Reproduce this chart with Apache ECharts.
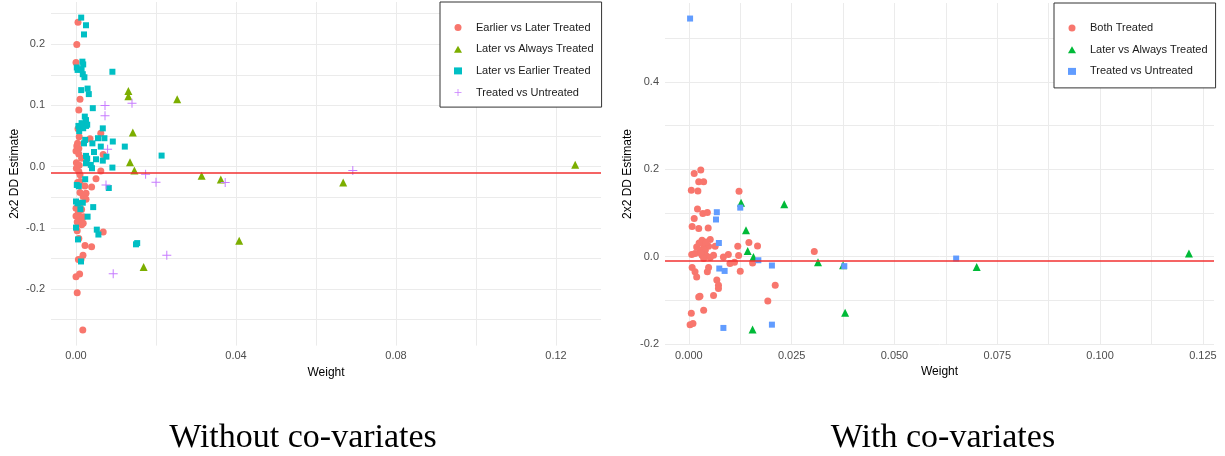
<!DOCTYPE html>
<html>
<head>
<meta charset="utf-8">
<title>2x2 DD estimates vs weight</title>
<script src="https://cdn.jsdelivr.net/npm/echarts@6/dist/echarts.min.js"></script>
<style>
  html, body { margin: 0; padding: 0; background: #fff; }
  #chart { width: 1225px; height: 456px; }
</style>
</head>
<body>
<div id="chart"></div>
<script>
// ---- left panel: without co-variates ([weight, estimate]) ----
var leftEarlierVsLater = [
  [0.0005,0.236],[0.0002,0.1995],[0.0,0.170],[0.001,0.110],[0.0007,0.0925],[0.0005,0.062],
  [0.0062,0.0545],[0.0008,0.049],[0.0035,0.0457],[0.0004,0.038],[0.0002,0.0337],[0.0007,0.0294],
  [0.0,0.0255],[0.0007,0.0208],[0.0068,0.0196],[0.0014,0.0137],[0.0001,0.0065],[0.0008,0.0023],
  [0.0001,-0.0026],[0.0007,-0.008],[0.001,-0.0134],[0.0062,-0.0072],[0.005,-0.020],[0.0004,-0.026],
  [0.001,-0.0245],[0.0022,-0.0317],[0.0039,-0.0333],[0.001,-0.0425],[0.0025,-0.0435],[0.0018,-0.049],
  [0.0025,-0.0534],[0.001,-0.060],[0.0,-0.068],[0.0014,-0.070],[0.0006,-0.0752],[0.0,-0.0807],
  [0.001,-0.0845],[0.0018,-0.082],[0.0003,-0.0907],[0.0014,-0.095],[0.0018,-0.0926],[0.0003,-0.105],
  [0.0068,-0.107],[0.0007,-0.1176],[0.00225,-0.129],[0.0039,-0.131],[0.00175,-0.145],[0.00125,-0.152],
  [0.0006,-0.152],[0.0009,-0.1755],[0.0,-0.18],[0.0003,-0.206],[0.0017,-0.267]
];
var leftLaterVsAlways = [
  [0.0131,0.1235],[0.0131,0.115],[0.0253,0.110],[0.0142,0.0556],[0.0135,0.007],[0.0146,-0.0065],
  [0.0314,-0.015],[0.0362,-0.021],[0.0668,-0.026],[0.1248,0.003],[0.0408,-0.121],[0.0169,-0.164]
];
var leftLaterVsEarlier = [
  [0.0013,0.2435],[0.0025,0.231],[0.002,0.216],[0.0016,0.1715],[0.0018,0.167],[0.0002,0.162],
  [0.0004,0.158],[0.0014,0.159],[0.0017,0.151],[0.0021,0.146],[0.0091,0.155],[0.0013,0.125],
  [0.0029,0.1275],[0.0032,0.1185],[0.0042,0.0955],[0.0022,0.0817],[0.0025,0.076],[0.0006,0.0665],
  [0.0014,0.071],[0.0025,0.0665],[0.0028,0.0685],[0.0018,0.0627],[0.0008,0.058],[0.0067,0.0625],
  [0.0055,0.0464],[0.0071,0.0464],[0.0092,0.041],[0.0023,0.0436],[0.002,0.038],[0.0041,0.038],
  [0.0122,0.0327],[0.0062,0.0327],[0.0045,0.0239],[0.0076,0.0163],[0.0025,0.0175],[0.0028,0.013],
  [0.005,0.012],[0.0067,0.0098],[0.0214,0.018],[0.0025,0.0056],[0.0037,0.0028],[0.004,-0.0026],
  [0.0091,-0.0016],[0.0023,-0.0206],[0.0002,-0.030],[0.0007,-0.032],[0.0082,-0.035],[0.0,-0.057],
  [0.0004,-0.060],[0.0017,-0.059],[0.0043,-0.0662],[0.0011,-0.0695],[0.0029,-0.0818],[0.0,-0.0997],
  [0.0052,-0.103],[0.0056,-0.111],[0.0005,-0.119],[0.015,-0.127],[0.0153,-0.125],[0.00125,-0.155]
];
var leftTreatedVsUntreated = [
  [0.00725,0.100],[0.014,0.1035],[0.00725,0.083],[0.0079,0.0285],[0.0075,-0.030],[0.0174,-0.0124],
  [0.020,-0.0255],[0.0373,-0.026],[0.0692,-0.0065],[0.0227,-0.145],[0.0093,-0.175]
];
var leftOverall = -0.008;

// ---- right panel: with co-variates ----
var rightBothTreated = [
  [0.0013,0.190],[0.0029,0.198],[0.0024,0.171],[0.0036,0.171],[0.0006,0.152],[0.0022,0.150],
  [0.0122,0.1496],[0.0021,0.109],[0.0034,0.0985],[0.0045,0.1008],[0.0013,0.087],[0.0008,0.069],
  [0.0024,0.064],[0.0047,0.0655],[0.0032,0.0373],[0.0052,0.039],[0.0019,0.022],[0.0036,0.026],
  [0.0048,0.0236],[0.0064,0.0236],[0.0027,0.0144],[0.004,0.0144],[0.0015,0.0069],[0.0032,0.003],
  [0.0044,0.0007],[0.006,0.003],[0.0007,0.0046],[0.0036,-0.0046],[0.0052,-0.0023],[0.0025,0.031],
  [0.0042,0.033],[0.0029,0.008],[0.0146,0.032],[0.0167,0.0243],[0.0119,0.0236],[0.0305,0.0115],
  [0.0084,-0.001],[0.0096,0.0046],[0.0121,0.0023],[0.010,-0.016],[0.0111,-0.013],[0.0155,-0.0147],
  [0.0125,-0.0337],[0.0008,-0.025],[0.0015,-0.035],[0.0019,-0.0467],[0.0045,-0.035],[0.0048,-0.025],
  [0.0068,-0.054],[0.0072,-0.066],[0.0072,-0.073],[0.021,-0.066],[0.0027,-0.091],[0.0024,-0.0925],
  [0.006,-0.0894],[0.0192,-0.1017],[0.0006,-0.130],[0.0036,-0.123],[0.0003,-0.156],[0.001,-0.1535]
];
var rightLaterVsAlways = [
  [0.0127,0.123],[0.0232,0.120],[0.0139,0.0603],[0.0143,0.0128],[0.0157,-0.001],[0.0314,-0.013],
  [0.0375,-0.020],[0.038,-0.129],[0.0155,-0.167],[0.070,-0.0238],[0.1216,0.0069]
];
var rightTreatedVsUntreated = [
  [0.0003,0.545],[0.0068,0.1015],[0.0066,0.0848],[0.0125,0.112],[0.0073,0.031],[0.0169,-0.0085],
  [0.0202,-0.0206],[0.0378,-0.022],[0.0074,-0.0275],[0.0087,-0.033],[0.0084,-0.1635],[0.0202,-0.156],
  [0.065,-0.0046]
];
var rightOverall = -0.011;

// ticks (grid lines) and labelled ticks
var leftXGrid = [0, 0.02, 0.04, 0.06, 0.08, 0.10, 0.12];
var leftXLabels = [0, 0.04, 0.08, 0.12];
var leftYGrid = [-0.25, -0.2, -0.15, -0.1, -0.05, 0, 0.05, 0.1, 0.15, 0.2, 0.25];
var leftYLabels = [-0.2, -0.1, 0, 0.1, 0.2];
var rightXGrid = [0, 0.0125, 0.025, 0.0375, 0.05, 0.0625, 0.075, 0.0875, 0.1, 0.1125, 0.125];
var rightXLabels = [0, 0.025, 0.05, 0.075, 0.1, 0.125];
var rightYGrid = [-0.2, -0.1, 0, 0.1, 0.2, 0.3, 0.4, 0.5];
var rightYLabels = [-0.2, 0, 0.2, 0.4];

var RED = '#F8766D';
var plusPath = 'path://M4,0H5V4H9V5H5V9H4V5H0V4H4Z';
var labelFont = { color: '#4d4d4d', fontSize: 11, fontFamily: 'Liberation Sans' };
var nameFont = { color: '#000', fontSize: 12, fontFamily: 'Liberation Sans' };

function xAxisOf(gridIndex, min, max, grid, labels, digits) {
  return {
    type: 'value', gridIndex: gridIndex, min: min, max: max,
    name: 'Weight', nameLocation: 'middle', nameGap: 19, nameTextStyle: nameFont,
    axisLine: { show: false },
    axisTick: { show: false, customValues: grid },
    axisLabel: Object.assign({ margin: 5, customValues: labels,
      formatter: function (v) { return v.toFixed(digits); } }, labelFont),
    splitLine: { show: true, lineStyle: { color: '#ebebeb', width: 1 } }
  };
}
function yAxisOf(gridIndex, min, max, grid, labels, gap) {
  return {
    type: 'value', gridIndex: gridIndex, min: min, max: max,
    name: '2x2 DD Estimate', nameLocation: 'middle', nameGap: gap, nameTextStyle: nameFont,
    axisLine: { show: false },
    axisTick: { show: false, customValues: grid },
    axisLabel: Object.assign({ margin: 6, customValues: labels,
      formatter: function (v) { return v.toFixed(1); } }, labelFont),
    splitLine: { show: true, lineStyle: { color: '#ebebeb', width: 1 } }
  };
}
function scatter(name, data, axis, color, symbol, size) {
  return {
    name: name, type: 'scatter', data: data,
    xAxisIndex: axis, yAxisIndex: axis,
    symbol: symbol, symbolSize: size,
    itemStyle: { color: color, opacity: 1 },
    emphasis: { disabled: true }
  };
}
function hline(value) {
  return {
    silent: true, symbol: 'none', label: { show: false },
    lineStyle: { color: '#f23030', width: 1.5, type: 'solid' },
    data: [{ yAxis: value }]
  };
}
function legendItem(name, icon, color) {
  return { name: name, icon: icon, itemStyle: { color: color } };
}
// small square icon box, text pushed right by its own padding
var legendCommon = {
  orient: 'vertical', itemWidth: 8, itemHeight: 7, itemGap: 10.7,
  backgroundColor: '#fff', borderColor: '#333', borderWidth: 1,
  selectedMode: false,
  textStyle: { color: '#1a1a1a', fontSize: 11, fontFamily: 'Liberation Sans', padding: [0, 0, 0, 9] }
};

var series = [
  scatter('Earlier vs Later Treated', leftEarlierVsLater, 0, RED, 'circle', 7),
  scatter('Later vs Always Treated', leftLaterVsAlways, 0, '#7CAE00', 'triangle', 8),
  scatter('Later vs Earlier Treated', leftLaterVsEarlier, 0, '#00BFC4', 'rect', 6),
  scatter('Treated vs Untreated', leftTreatedVsUntreated, 0, '#C77CFF', plusPath, 9),
  scatter('Both Treated', rightBothTreated, 1, RED, 'circle', 7),
  scatter('Later vs Always Treated', rightLaterVsAlways, 1, '#00BA38', 'triangle', 8),
  scatter('Treated vs Untreated', rightTreatedVsUntreated, 1, '#619CFF', 'rect', 6)
];
series[3].markLine = hline(leftOverall);
series[6].markLine = hline(rightOverall);

var chart = echarts.init(document.getElementById('chart'), null, { renderer: 'canvas' });
chart.setOption({
  animation: false,
  backgroundColor: '#fff',
  grid: [
    { left: 51, top: 2, width: 550, height: 343.6, outerBoundsMode: 'none' },
    { left: 665, top: 3, width: 549, height: 342, outerBoundsMode: 'none' }
  ],
  xAxis: [
    xAxisOf(0, -0.00625, 0.13125, leftXGrid, leftXLabels, 2),
    xAxisOf(1, -0.0058, 0.1277, rightXGrid, rightXLabels, 3)
  ],
  yAxis: [
    yAxisOf(0, -0.2925, 0.269, leftYGrid, leftYLabels, 30),
    yAxisOf(1, -0.2026, 0.5806, rightYGrid, rightYLabels, 31)
  ],
  legend: [
    Object.assign({}, legendCommon, {
      left: 440, top: 2, padding: [20, 8, 9, 14],
      data: [
        legendItem('Earlier vs Later Treated', 'circle', RED),
        legendItem('Later vs Always Treated', 'triangle', '#7CAE00'),
        legendItem('Later vs Earlier Treated', 'rect', '#00BFC4'),
        legendItem('Treated vs Untreated', plusPath, '#C77CFF')
      ]
    }),
    Object.assign({}, legendCommon, {
      left: 1054, top: 3, padding: [19.5, 8, 11, 14],
      data: [
        legendItem('Both Treated', 'circle', RED),
        legendItem('Later vs Always Treated', 'triangle', '#00BA38'),
        legendItem('Treated vs Untreated', 'rect', '#619CFF')
      ]
    })
  ],
  graphic: [
    { type: 'text', x: 303, y: 438, silent: true,
      style: { text: 'Without co-variates', font: '34px "Liberation Serif"', fill: '#000', align: 'center', verticalAlign: 'middle' } },
    { type: 'text', x: 943, y: 438, silent: true,
      style: { text: 'With co-variates', font: '34px "Liberation Serif"', fill: '#000', align: 'center', verticalAlign: 'middle' } }
  ],
  series: series
});
</script>
</body>
</html>
